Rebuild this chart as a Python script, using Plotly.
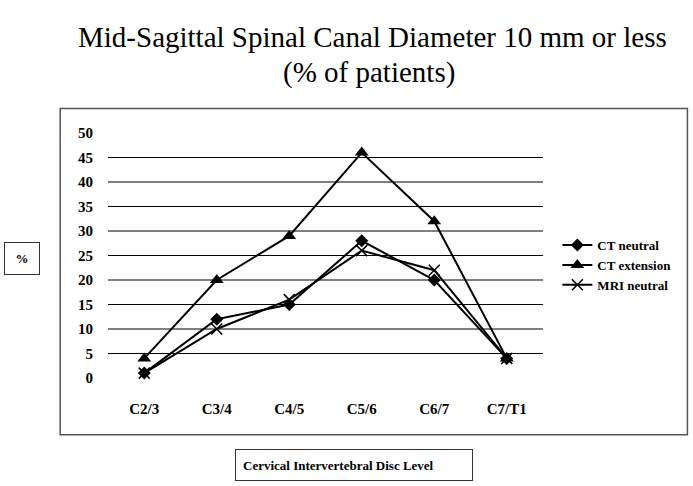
import plotly.graph_objects as go

levels = ["C2/3", "C3/4", "C4/5", "C5/6", "C6/7", "C7/T1"]
ct_neutral = [1, 12, 15, 28, 20, 4]
ct_extension = [4, 20, 29, 46, 32, 4]
mri_neutral = [1, 10, 16, 26, 22, 4]
y_ticks = [0, 5, 10, 15, 20, 25, 30, 35, 40, 45, 50]
grid_values = [5, 10, 15, 20, 25, 30, 35, 40, 45]

FONT = "Liberation Serif"

fig = go.Figure()
fig.add_trace(go.Scatter(x=levels, y=ct_neutral, name="CT neutral", mode="lines+markers",
                         line=dict(color="black", width=2),
                         marker=dict(symbol="diamond", size=10, color="black"), cliponaxis=False))
fig.add_trace(go.Scatter(x=levels, y=ct_extension, name="CT extension", mode="lines+markers",
                         line=dict(color="black", width=2),
                         marker=dict(symbol="triangle-up", size=12, color="black"), cliponaxis=False))
fig.add_trace(go.Scatter(x=levels, y=mri_neutral, name="MRI neutral", mode="lines+markers",
                         line=dict(color="black", width=2),
                         marker=dict(symbol="x-thin", size=11, color="black",
                                     line=dict(color="black", width=1.5)), cliponaxis=False))

# horizontal gridlines (none at 0 or 50)
for g in grid_values:
    fig.add_shape(type="line", xref="paper", yref="y", x0=0, x1=1, y0=g, y1=g,
                  line=dict(color="black", width=1), layer="below")

# outer chart border
fig.add_shape(type="rect", xref="paper", yref="paper", x0=-0.11, x1=1.332, y0=-0.232, y1=1.10,
              line=dict(color="#555555", width=1.5))

# title, two lines
fig.add_annotation(text="Mid-Sagittal Spinal Canal Diameter 10 mm or less", xref="paper", yref="paper",
                   x=0.607, y=1.392, xanchor="center", yanchor="middle", showarrow=False,
                   font=dict(family=FONT, size=29, color="black"))
fig.add_annotation(text="(% of patients)", xref="paper", yref="paper",
                   x=0.600, y=1.245, xanchor="center", yanchor="middle", showarrow=False,
                   font=dict(family=FONT, size=29, color="black"))

# boxed axis titles
fig.add_annotation(text="%", xref="paper", yref="paper", x=-0.198, y=0.486,
                   xanchor="center", yanchor="middle", showarrow=False,
                   font=dict(family=FONT, size=13, color="black", weight="bold"),
                   bordercolor="#333333", borderwidth=1, borderpad=6, width=22, height=19)
fig.add_annotation(text="Cervical Intervertebral Disc Level", xref="paper", yref="paper",
                   x=0.566, y=-0.355, xanchor="center", yanchor="middle", showarrow=False, align="left",
                   font=dict(family=FONT, size=13, color="black", weight="bold"),
                   bordercolor="#333333", borderwidth=1, borderpad=7, width=222, height=16)

fig.update_layout(
    width=693, height=486,
    margin=dict(l=108, r=150, t=133, b=108),
    paper_bgcolor="white", plot_bgcolor="white",
    xaxis=dict(showgrid=False, showline=False, ticks="", zeroline=False,
               range=[-0.5, 5.5], ticklabelstandoff=20,
               tickfont=dict(family=FONT, size=15, color="black", weight="bold")),
    yaxis=dict(showgrid=False, showline=False, zeroline=False, ticks="",
               range=[0, 50], tickvals=y_ticks, ticklabelstandoff=14,
               tickfont=dict(family=FONT, size=15, color="black", weight="bold")),
    legend=dict(x=1.033, y=0.461, xanchor="left", yanchor="middle",
                font=dict(family=FONT, size=13, color="black", weight="bold"),
                itemwidth=30, tracegroupgap=0, bgcolor="rgba(0,0,0,0)"),
    showlegend=True,
)

fig.write_html("out.html", config={"displayModeBar": False},
               post_script="document.body.style.margin='0';")
